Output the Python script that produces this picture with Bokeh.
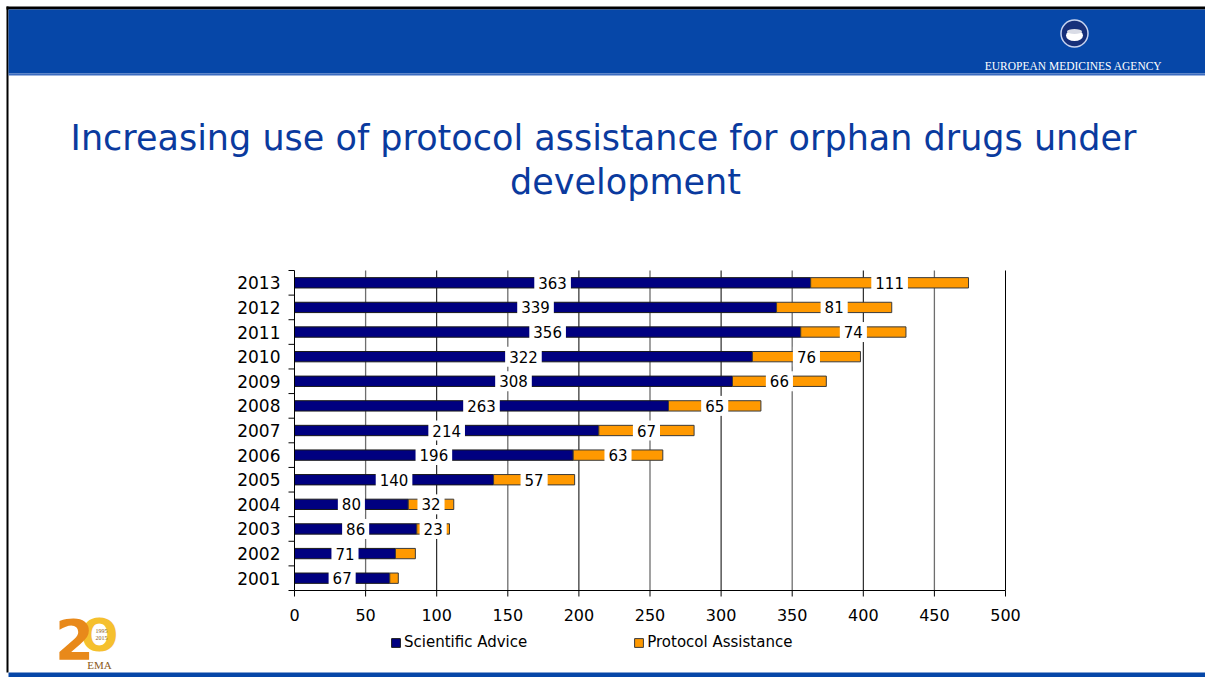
import numpy as np
from bokeh.plotting import figure
from bokeh.models import Legend, LegendItem, ColumnDataSource, Label, Range1d
from bokeh.core.properties import value
from bokeh.embed import file_html
from bokeh.resources import INLINE

# ---------------- data ----------------
years = ["2001", "2002", "2003", "2004", "2005", "2006", "2007",
         "2008", "2009", "2010", "2011", "2012", "2013"]
scientific_advice = [67, 71, 86, 80, 140, 196, 214, 263, 308, 322, 356, 339, 363]
protocol_assistance = [6, 14, 23, 32, 57, 63, 67, 65, 66, 76, 74, 81, 111]
series_names = ["Scientific Advice", "Protocol Assistance"]
x_ticks = [0, 50, 100, 150, 200, 250, 300, 350, 400, 450, 500]
title_lines = ["Increasing use of protocol assistance for orphan drugs under",
               "development"]
agency_name = "EUROPEAN MEDICINES AGENCY"
# values printed on the slide (the two smallest protocol values carry no label)
pa_shown = [False, False, True, True, True, True, True, True, True, True, True, True, True]

# ---------------- styling / layout ----------------
NAVY = "#000080"
ORANGE = "#FF9900"
HEADER = "#0647A8"
TITLE_C = "#0A3A9E"
FONT = "DejaVu Sans"
W, H = 1205, 677
FL, FR, FT, FB = 294, 1005, 270, 590        # chart plotting box on the slide (px)

X0, X1 = x_ticks[0], x_ticks[-1]
Y0, Y1 = -0.5, len(years) - 0.5
kx = (FR - FL) / (X1 - X0)
ky = (FB - FT) / (Y1 - Y0)

p = figure(width=W, height=H, x_range=(0, W), y_range=(H, 0),
           output_backend="svg", toolbar_location=None,
           x_axis_type=None, y_axis_type=None, min_border=0)
p.outline_line_color = None
p.background_fill_color = "white"
p.border_fill_color = "white"
p.extra_x_ranges = {"cx": Range1d(X0 - FL / kx, X1 + (W - FR) / kx)}
p.extra_y_ranges = {"cy": Range1d(Y0 - (H - FB) / ky, Y1 + FT / ky)}
C = dict(x_range_name="cx", y_range_name="cy")

# ---------------- slide decorations (pixel space) ----------------
p.quad(left=[6, 6, 8, 8, 8], right=[W, 8, W, W, W], top=[6, 6, 9, 73, 672],
       bottom=[9, 672, 73, 75, H],
       fill_color=["black", "black", HEADER, "#3C6CC0", HEADER], line_color=None)
p.scatter(x=[1074], y=[33], size=27, marker="circle", fill_color="#16307A",
          line_color="#C8D4F0", line_width=1.5)
p.ellipse(x=[1074], y=[35], width=17, height=11, fill_color="white", line_color=None)
p.ellipse(x=[1074], y=[31], width=15, height=5, fill_color="#D9DCE6", line_color=None)
p.text(x=[1073], y=[65], text=[agency_name], text_font=value("Liberation Serif"),
       text_font_size=value("11.5px"), text_color="white", text_align="center",
       text_baseline="middle")
p.text(x=[603, 625], y=[137, 181], text=title_lines, text_font=value(FONT),
       text_font_size=value("35px"), text_color=TITLE_C, text_align="center",
       text_baseline="middle")

# 20-years EMA logo (approximation)
p.text(x=[99], y=[635], text=["O"], text_font=value(FONT), text_font_style="bold",
       text_font_size=value("44px"), text_color="#F5C02E", text_align="center",
       text_baseline="middle")
p.text(x=[74], y=[638], text=["2"], text_font=value(FONT), text_font_style="bold",
       text_font_size=value("56px"), text_color="#E8891A", text_align="center",
       text_baseline="middle")
p.text(x=[101, 101], y=[630, 637], text=["1995", "2015"],
       text_font=value("Liberation Serif"), text_font_size=value("6px"),
       text_color="#8A5A20", text_align="center", text_baseline="middle")
p.text(x=[99], y=[664], text=["EMA"], text_font=value("Liberation Serif"),
       text_font_size=value("11px"), text_color="#8A5A20", text_align="center",
       text_baseline="middle")

# ---------------- chart ----------------
ys = np.arange(len(years))
sa = np.array(scientific_advice, dtype=float)
pa = np.array(protocol_assistance, dtype=float)
src = ColumnDataSource(dict(y=ys, sa=sa, tot=sa + pa))

# vertical gridlines (alternating dark / grey as on the slide)
gx = x_ticks[1:]
p.segment(x0=gx, y0=[Y0] * len(gx), x1=gx, y1=[Y1] * len(gx),
          line_color=["black" if t % 100 == 0 else "#6E6E6E" for t in gx],
          line_width=[1 if t % 100 == 0 else 1.3 for t in gx], **C)

r_sa = p.hbar(y="y", left=0, right="sa", height=0.42, source=src,
              fill_color=NAVY, line_color="#1a1a1a", line_width=1, **C)
r_pa = p.hbar(y="y", left="sa", right="tot", height=0.42, source=src,
              fill_color=ORANGE, line_color="#3a3a3a", line_width=1, **C)

# axes
p.segment(x0=[X0, X0], y0=[Y0, Y0], x1=[X1, X0], y1=[Y0, Y1],
          line_color="black", line_width=1, **C)
p.ray(x=x_ticks, y=[Y0] * len(x_ticks), length=6, length_units="screen",
      angle=-90, angle_units="deg", line_color="black", line_width=1, **C)
bounds = (np.arange(len(years) + 1) - 0.5).tolist()
p.ray(x=[X0] * len(bounds), y=bounds, length=6, length_units="screen",
      angle=180, angle_units="deg", line_color="black", line_width=1, **C)
p.text(x=x_ticks, y=[Y0] * len(x_ticks), text=[str(t) for t in x_ticks],
       y_offset=18, text_font=value(FONT), text_font_size=value("16px"),
       text_color="black", text_align="center", text_baseline="top", **C)
p.text(x=[X0] * len(years), y=ys.tolist(), text=years, x_offset=-14,
       text_font=value(FONT), text_font_size=value("17px"), text_color="black",
       text_align="right", text_baseline="middle", **C)

# value labels
for i in range(len(years)):
    p.add_layout(Label(x=sa[i] / 2, y=ys[i], text=str(scientific_advice[i]),
                       text_font=FONT, text_font_size="15px", text_color="black",
                       text_align="center", text_baseline="middle",
                       background_fill_color="white", padding=4, **C))
    if pa_shown[i]:
        p.add_layout(Label(x=sa[i] + pa[i] / 2, y=ys[i], text=str(protocol_assistance[i]),
                           text_font=FONT, text_font_size="15px", text_color="black",
                           text_align="center", text_baseline="middle",
                           background_fill_color="white", padding=4, **C))

legend = Legend(items=[LegendItem(label=series_names[0], renderers=[r_sa]),
                       LegendItem(label=series_names[1], renderers=[r_pa])],
                orientation="horizontal", location=(390, 26),
                label_text_font=FONT, label_text_font_size="15px",
                label_text_color="black", glyph_width=11, glyph_height=11,
                label_standoff=3, spacing=106, padding=2, margin=0,
                border_line_color=None, background_fill_alpha=0)
p.add_layout(legend)

open("out.html", "w").write(file_html(p, INLINE))
